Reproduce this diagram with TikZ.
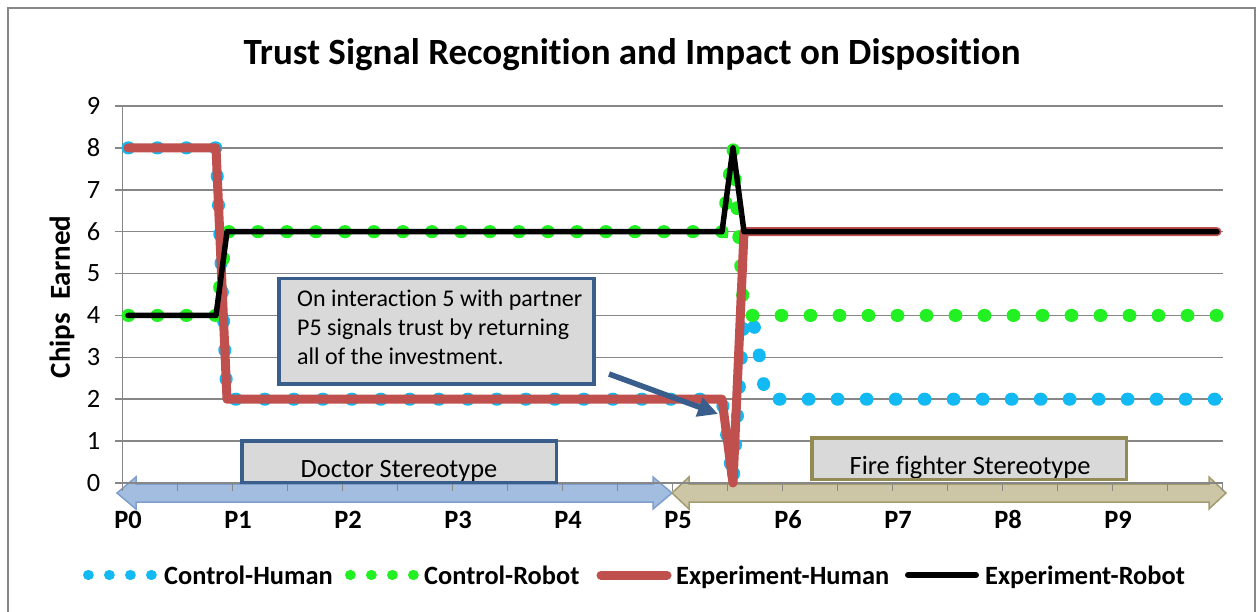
\documentclass[tikz,border=0pt]{standalone}
\usepackage{fontspec}
\setmainfont{Carlito}[Ligatures=NoCommon]
\usetikzlibrary{arrows.meta, positioning, calc, fit}

\definecolor{chred}{HTML}{C0504D}
\definecolor{chblue}{HTML}{12B9F2}
\definecolor{chgreen}{HTML}{22F022}
\definecolor{gridgray}{HTML}{878787}
\definecolor{notefill}{HTML}{D9D9D9}
\definecolor{noteblue}{HTML}{3A5E8C}
\definecolor{firegold}{HTML}{948A54}
\definecolor{arrowblue}{HTML}{A2BDE0}
\definecolor{arrowblueedge}{HTML}{7E9ECB}
\definecolor{arrowolive}{HTML}{CCC6A6}
\definecolor{arrowoliveedge}{HTML}{A39B70}

\begin{document}
\begin{tikzpicture}[x=1pt, y=-1pt,
  gridline/.style={draw=gridgray, line width=1.5pt},
  ticklabel/.style={font=\fontsize{26.4}{30}\selectfont, inner sep=0pt},
  plab/.style={font=\bfseries\fontsize{26.4}{30}\selectfont, inner sep=0pt},
  legtext/.style={font=\bfseries\fontsize{26.4}{30}\selectfont, inner sep=0pt, anchor=base west},
  boxtext/.style={font=\fontsize{26.4}{30}\selectfont, inner sep=0pt, anchor=base},
  greybox/.style={fill=notefill, minimum width=314, minimum height=41, inner sep=0pt},
  cdots/.style={line width=13pt, line cap=round, dash pattern=on 0.8pt off 28.2pt},
  legdots/.style={line width=10pt, line cap=round, dash pattern=on 0.8pt off 20.2pt},
  series/.style={line join=round, line cap=round},
  callout/.style={draw=noteblue, line width=5.5pt, -{Triangle[length=20pt, width=19pt]}}]

\fill[white] (0,0) rectangle (1256,612);
\useasboundingbox (0,0) rectangle (1256,612);
\draw[gridgray, line width=1.5pt] (8,612) -- (8,8) -- (1255,8) -- (1255,612);

\node[font=\bfseries\fontsize{37}{44}\selectfont, inner sep=0pt, anchor=base] (title) at (632,65)
  {Trust Signal Recognition and Impact on Disposition};
\node[font=\bfseries\fontsize{29}{34}\selectfont, inner sep=0pt, rotate=90] (ylabel) at (62,297)
  {Chips~~Earned};

% stereotype bands under the axis
\fill[arrowblue, draw=arrowblueedge, line width=1.5pt]
  (117,493) -- (136,477) -- (136,484) -- (653,484) -- (653,477) -- (672,493)
  -- (653,509) -- (653,502) -- (136,502) -- (136,509) -- cycle;
\fill[arrowolive, draw=arrowoliveedge, line width=1.5pt]
  (672,493) -- (689,477) -- (689,484) -- (1209,484) -- (1209,477) -- (1226,493)
  -- (1209,509) -- (1209,502) -- (689,502) -- (689,509) -- cycle;

\begin{scope}[shift={(128,483)}, x=11pt, y=41.89pt]
  \foreach \v in {1,...,9}
    \draw[gridline] (-1.2,\v) -- (99.5,\v);
  \draw[gridline] (-1.2,0) -- (99.5,0);
  \draw[gridline] (-0.5,0) -- (-0.5,9);
  \foreach \j in {0,...,20}
    \draw[gridline] (-0.5+5*\j,0) -- ++(0,-0.19);
  \foreach \v in {0,...,9}
    \node[ticklabel, anchor=east] (yt\v) at (-2.5,\v) {\v};
  \foreach \m in {0,...,9}
    \node[plab] (px\m) at (10*\m,-0.88) {P\m};

  % the four series
  \draw[cdots, chblue] (0,8) -- (8,8) -- (9,2) -- (54,2) -- (55,0) -- (56,4) -- (57,3.7) -- (58,2) -- (99,2);
  \draw[cdots, chgreen] (0,4) -- (8,4) -- (9,6) -- (54,6) -- (55,8) -- (56,4) -- (99,4);
  \draw[series, chred, line width=9pt] (0,8) -- (8,8) -- (9,2) -- (54,2) -- (55,0) -- (56,6) -- (99,6);
  \draw[series, black, line width=5.5pt] (0,4) -- (8,4) -- (9,6) -- (54,6) -- (55,8) -- (56,6) -- (99,6);
\end{scope}

% stereotype labels
\node[greybox, anchor=north west] (doctorbox) at (242,441) {};
\node[boxtext] (doctortext) at (399,477) {Doctor Stereotype};
\node[draw=noteblue, line width=3.5pt, fit=(doctorbox), inner sep=0pt] (doctorframe) {};
\node[greybox, anchor=north west] (firebox) at (812,438) {};
\node[boxtext] (firetext) at (970,474) {Fire fighter Stereotype};
\node[draw=firegold, line width=3.5pt, fit=(firebox), inner sep=0pt] (fireframe) {};

% annotation
\node[fill=notefill, draw=noteblue, line width=3.5pt, minimum width=315, minimum height=105,
  inner sep=0pt, anchor=north west] (note) at (277,277) {};
\node[font=\fontsize{24}{29}\selectfont, align=left, inner sep=0pt, anchor=north west] (notetext) at (297,290)
  {On interaction 5 with partner\\P5 signals trust by returning\\all of the investment.};
\coordinate (calloutTail) at (609,374);
\coordinate (calloutTip) at (718,414);
\draw[callout] (calloutTail) -- (calloutTip);

% legend
\draw[legdots, chblue] (88,575) -- (152,575);
\node[legtext] (legch) at (164,584) {Control-Human};
\draw[legdots, chgreen] (350,575) -- (414,575);
\node[legtext] (legcr) at (424,584) {Control-Robot};
\draw[chred, line width=9pt, line cap=round] (601,575) -- (667,575);
\node[legtext] (legeh) at (676,584) {Experiment-Human};
\draw[black, line width=6pt, line cap=round] (908,575) -- (976,575);
\node[legtext] (leger) at (985,584) {Experiment-Robot};
\end{tikzpicture}
\end{document}
